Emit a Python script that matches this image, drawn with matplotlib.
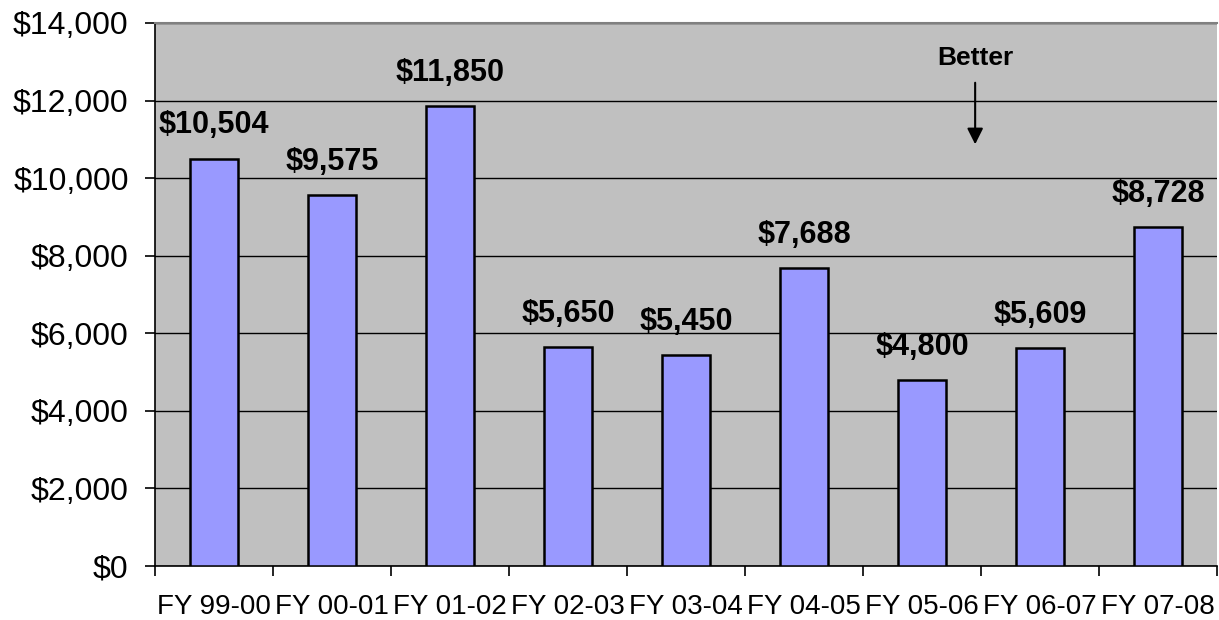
import numpy as np
import matplotlib.pyplot as plt
from matplotlib.ticker import FuncFormatter, FixedLocator

plt.rcParams['font.family'] = ['Liberation Sans', 'DejaVu Sans']

years = ['FY 99-00', 'FY 00-01', 'FY 01-02', 'FY 02-03', 'FY 03-04',
         'FY 04-05', 'FY 05-06', 'FY 06-07', 'FY 07-08']
costs = [10504, 9575, 11850, 5650, 5450, 7688, 4800, 5609, 8728]

fig = plt.figure(figsize=(12.19, 6.2), dpi=100)
ax = fig.add_axes([0.1272, 0.0871, 0.8712, 0.8759])
ax.set_facecolor('#C0C0C0')

x = np.arange(len(years))
ax.bar(x, costs, width=0.41, color='#9999FF', edgecolor='black', linewidth=1.8, zorder=3)

for xi, v in zip(x, costs):
    ax.annotate(f'${v:,}', (xi, v), xytext=(0, 13), textcoords='offset points',
                ha='center', va='bottom', fontsize=22, fontweight='bold')

ax.set_xlim(-0.5, len(years) - 0.5)
ax.set_ylim(0, 14000)
ax.set_yticks(np.arange(0, 14001, 2000))
ax.yaxis.set_major_formatter(FuncFormatter(lambda v, p: f'${int(v):,}'))
ax.grid(axis='y', color='black', linewidth=1.0, zorder=1)
ax.set_axisbelow(True)

# boundary ticks between categories, labels centred under bars
ax.xaxis.set_major_locator(FixedLocator(np.arange(-0.5, len(years), 1.0)))
ax.xaxis.set_major_formatter(FuncFormatter(lambda v, p: ''))
ax.xaxis.set_minor_locator(FixedLocator(x))
ax.set_xticklabels(years, minor=True)
ax.tick_params(axis='x', which='major', length=7, width=1.2, color='black')
ax.tick_params(axis='x', which='minor', length=0, pad=20, labelsize=20)
ax.tick_params(axis='y', length=7, width=1.2, pad=12, labelsize=23)

for s in ['left', 'bottom']:
    ax.spines[s].set_color('black')
    ax.spines[s].set_linewidth(1.2)
ax.spines['right'].set_visible(False)
ax.spines['top'].set_color('#808080')
ax.spines['top'].set_linewidth(1.5)

ax.annotate('', xy=(6.45, 10800), xytext=(6.45, 12530),
            arrowprops=dict(arrowstyle='-|>', color='black', lw=1.5, mutation_scale=24))
ax.text(6.45, 13100, 'Better', ha='center', va='center', fontsize=19, fontweight='bold')

fig.savefig('out.png', dpi=100)
